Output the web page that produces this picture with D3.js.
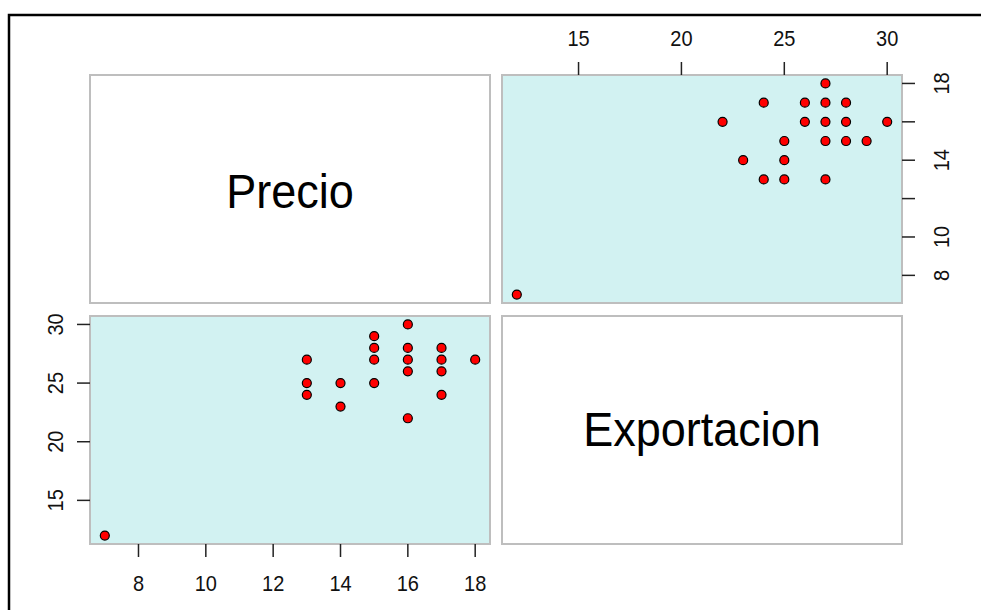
<!DOCTYPE html>
<html>
<head>
<meta charset="utf-8">
<script src="https://cdn.jsdelivr.net/npm/d3@7"></script>
<style>
  html, body { margin: 0; padding: 0; background: #fff; }
  svg { display: block; font-family: "Liberation Sans", Arial, sans-serif; }
</style>
</head>
<body>
<svg id="chart" width="981" height="610"></svg>
<script>
// ---- data ----
const varNames = ["Precio", "Exportacion"];
const precio = [7, 13, 13, 13, 14, 14, 15, 15, 15, 15, 16, 16, 16, 16, 16, 17, 17, 17, 17, 18];
const exportacion = [12, 27, 25, 24, 25, 23, 29, 28, 27, 25, 30, 28, 27, 26, 22, 28, 27, 26, 24, 27];
const precioTicks = [8, 10, 12, 14, 16, 18];
const precioRightLabels = [8, 10, 14, 18];
const exportTicks = [15, 20, 25, 30];

// ---- layout ----
const svg = d3.select("#chart");
const colX = [90, 502], panelW = 400;
const rowY = [75, 316], panelH = 228;
const fill = "#d2f2f2", panelStroke = "#bebebe";

function padDomain(arr) {
  const lo = d3.min(arr), hi = d3.max(arr), d = (hi - lo) * 0.04;
  return [lo - d, hi + d];
}

// outer frame
svg.append("rect").attr("x", 9).attr("y", 15).attr("width", 1000).attr("height", 700)
  .attr("fill", "none").attr("stroke", "#000").attr("stroke-width", 2.5);

// scales
const xPrecio = d3.scaleLinear().domain(padDomain(precio)).range([colX[0], colX[0] + panelW]);
const yExport = d3.scaleLinear().domain(padDomain(exportacion)).range([rowY[1] + panelH, rowY[1]]);
const xExport = d3.scaleLinear().domain(padDomain(exportacion)).range([colX[1], colX[1] + panelW]);
const yPrecio = d3.scaleLinear().domain(padDomain(precio)).range([rowY[0] + panelH, rowY[0]]);

// panels
function panel(x, y, bg) {
  svg.append("rect").attr("x", x).attr("y", y).attr("width", panelW).attr("height", panelH)
    .attr("fill", bg).attr("stroke", panelStroke).attr("stroke-width", 2);
}
panel(colX[0], rowY[0], "#fff");
panel(colX[1], rowY[0], fill);
panel(colX[0], rowY[1], fill);
panel(colX[1], rowY[1], "#fff");

// diagonal labels
svg.append("text").attr("transform", `translate(${colX[0] + panelW / 2},208) scale(1,1.08)`)
  .attr("text-anchor", "middle").attr("font-size", 45).attr("fill", "#000").text(varNames[0]);
svg.append("text").attr("transform", `translate(${colX[1] + panelW / 2},446) scale(1,1.08)`)
  .attr("text-anchor", "middle").attr("font-size", 45).attr("fill", "#000").text(varNames[1]);

// points
const pts = precio.map((p, i) => ({ p, e: exportacion[i] }));
svg.append("g").selectAll("circle").data(pts).join("circle")
  .attr("cx", d => xPrecio(d.p)).attr("cy", d => yExport(d.e)).attr("r", 4.5)
  .attr("fill", "#ff0000").attr("stroke", "#000").attr("stroke-width", 1.2);
svg.append("g").selectAll("circle").data(pts).join("circle")
  .attr("cx", d => xExport(d.e)).attr("cy", d => yPrecio(d.p)).attr("r", 4.5)
  .attr("fill", "#ff0000").attr("stroke", "#000").attr("stroke-width", 1.2);

const tickColor = "#222", tickLen = 13, fs = 20;
const axes = svg.append("g");

// bottom axis (Precio) under bottom-left panel
const yb = rowY[1] + panelH;
precioTicks.forEach(t => {
  axes.append("line").attr("x1", xPrecio(t)).attr("x2", xPrecio(t)).attr("y1", yb).attr("y2", yb + tickLen)
    .attr("stroke", tickColor).attr("stroke-width", 1.5);
  axes.append("text").attr("transform", `translate(${xPrecio(t)},${yb + 47}) scale(1,1.07)`)
    .attr("text-anchor", "middle").attr("font-size", fs).attr("fill", "#111").text(t);
});

// left axis (Exportacion) beside bottom-left panel
exportTicks.forEach(t => {
  axes.append("line").attr("x1", colX[0] - tickLen).attr("x2", colX[0]).attr("y1", yExport(t)).attr("y2", yExport(t))
    .attr("stroke", tickColor).attr("stroke-width", 1.5);
  axes.append("text").attr("transform", `translate(63,${yExport(t)}) rotate(-90) scale(1,1.07)`)
    .attr("text-anchor", "middle").attr("font-size", fs).attr("fill", "#111").text(t);
});

// top axis (Exportacion) above top-right panel
exportTicks.forEach(t => {
  axes.append("line").attr("x1", xExport(t)).attr("x2", xExport(t)).attr("y1", rowY[0] - tickLen).attr("y2", rowY[0])
    .attr("stroke", tickColor).attr("stroke-width", 1.5);
  axes.append("text").attr("transform", `translate(${xExport(t)},${rowY[0] - 29}) scale(1,1.07)`)
    .attr("text-anchor", "middle").attr("font-size", fs).attr("fill", "#111").text(t);
});

// right axis (Precio) beside top-right panel
const xr = colX[1] + panelW;
precioTicks.forEach(t => {
  axes.append("line").attr("x1", xr).attr("x2", xr + tickLen).attr("y1", yPrecio(t)).attr("y2", yPrecio(t))
    .attr("stroke", tickColor).attr("stroke-width", 1.5);
});
precioRightLabels.forEach(t => {
  axes.append("text").attr("transform", `translate(949,${yPrecio(t)}) rotate(-90) scale(1,1.07)`)
    .attr("text-anchor", "middle").attr("font-size", fs).attr("fill", "#111").text(t);
});
</script>
</body>
</html>
